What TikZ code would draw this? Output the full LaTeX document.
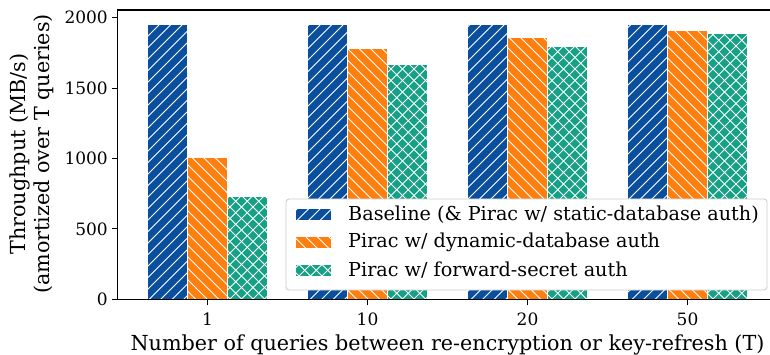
\documentclass[tikz,border=0pt]{standalone}
\usepackage{fontspec}
\setmainfont{DejaVu Serif}
\definecolor{cblue}{RGB}{10,79,158}
\definecolor{corange}{RGB}{255,127,14}
\definecolor{cgreen}{RGB}{22,160,133}
\definecolor{legframe}{RGB}{204,204,204}
\newcommand\hs{11.5}
\newcommand\hatchNE[4]{%
  \pgfmathtruncatemacro{\kmin}{floor((#1+#2)/\hs)-1}%
  \pgfmathtruncatemacro{\kmax}{ceil((#3+#4)/\hs)+1}%
  \foreach \k in {\kmin,...,\kmax}{\draw[hatchline] ({\k*\hs},0) -- ({\k*\hs-400},400);}%
}
\newcommand\hatchNW[4]{%
  \pgfmathtruncatemacro{\kmin}{floor((#1-#4)/\hs)-1}%
  \pgfmathtruncatemacro{\kmax}{ceil((#3-#2)/\hs)+1}%
  \foreach \k in {\kmin,...,\kmax}{\draw[hatchline] ({\k*\hs},0) -- ({\k*\hs+400},400);}%
}
\newcommand\barrect[6]{%
  \fill[#5] (#1,#2) rectangle (#3,#4);
  \begin{scope}
    \clip (#1,#2) rectangle (#3,#4);
    \ifnum#6=2\relax\else\hatchNE{#1}{#2}{#3}{#4}\fi
    \ifnum#6=1\relax\else\hatchNW{#1}{#2}{#3}{#4}\fi
  \end{scope}
  \draw[baredge] (#1,#2) rectangle (#3,#4);
}
\newcommand\databar[4]{%
  \pgfmathsetmacro{\ytop}{299.3-0.1408*#2}%
  \pgfmathsetmacro{\xend}{#1+40}%
  \barrect{#1}{\ytop}{\xend}{299.3}{#3}{#4}%
}
\begin{document}
\begin{tikzpicture}[x=1pt,y=-1pt,
  hatchline/.style={white,line width=0.9pt},
  baredge/.style={white,line width=1.1pt},
  spine/.style={black,line width=1.1pt},
  tickmark/.style={black,line width=1pt},
  ticklab/.style={font=\fontsize{17}{20}\selectfont,inner sep=0pt},
  axlab/.style={font=\fontsize{20.7}{24.5}\selectfont,inner sep=0pt},
  legtext/.style={font=\fontsize{19.2}{22}\selectfont,inner sep=0pt,anchor=west}]
\useasboundingbox (0,0) rectangle (770,355);
% bars
\foreach \gx/\va/\vb/\vc in {207.5/1950/1010/728, 367.5/1950/1783/1671, 527.5/1950/1863/1799, 687.5/1950/1913/1887}{
  \databar{\gx-60}{\va}{cblue}{1}
  \databar{\gx-20}{\vb}{corange}{2}
  \databar{\gx+20}{\vc}{cgreen}{3}
}
% spines
\coordinate (tl) at (117.5,10);
\coordinate (bl) at (117.5,299.3);
\coordinate (tr) at (775,10);
\coordinate (br) at (775,299.3);
\draw[spine] (tr) -- (tl) -- (bl) -- (br);
% y ticks
\foreach \v in {0,500,1000,1500,2000}{
  \pgfmathsetmacro{\yy}{299.3-0.1408*\v}
  \coordinate (yt\v) at (117.5,\yy);
  \coordinate (ytt\v) at (111.5,\yy);
  \draw[tickmark] (yt\v) -- (ytt\v);
  \node[ticklab,anchor=east] (ylab\v) at (108,\yy) {\v};
}
% x ticks
\foreach \gx/\t in {207.5/1,367.5/10,527.5/20,687.5/50}{
  \coordinate (xt\t) at (\gx,299.3);
  \coordinate (xtt\t) at (\gx,305.3);
  \draw[tickmark] (xt\t) -- (xtt\t);
  \node[ticklab,anchor=north] (xlab\t) at (\gx,312.5) {\t};
}
% axis labels
\node[axlab,anchor=base] (xlabel) at (447.5,350.5) {Number of queries between re-encryption or key-refresh (T)};
\node[axlab,rotate=90,align=center] (ylabel) at (32,154) {Throughput (MB/s)\\(amortized over T queries)};
% legend
\node[draw=legframe,fill=white,line width=0.9pt,rounded corners=3pt,minimum width=481pt,minimum height=91pt,inner sep=0pt] (legend) at (526.5,244.5) {};
\barrect{295}{208}{332}{221}{cblue}{1}
\barrect{295}{236}{332}{249}{corange}{2}
\barrect{295}{264}{332}{277}{cgreen}{3}
\node[legtext] (l1) at (348,214.5) {Baseline (\& Pirac w/ static-database auth)};
\node[legtext] (l2) at (348,242.5) {Pirac w/ dynamic-database auth};
\node[legtext] (l3) at (348,270.5) {Pirac w/ forward-secret auth};
\end{tikzpicture}
\end{document}
